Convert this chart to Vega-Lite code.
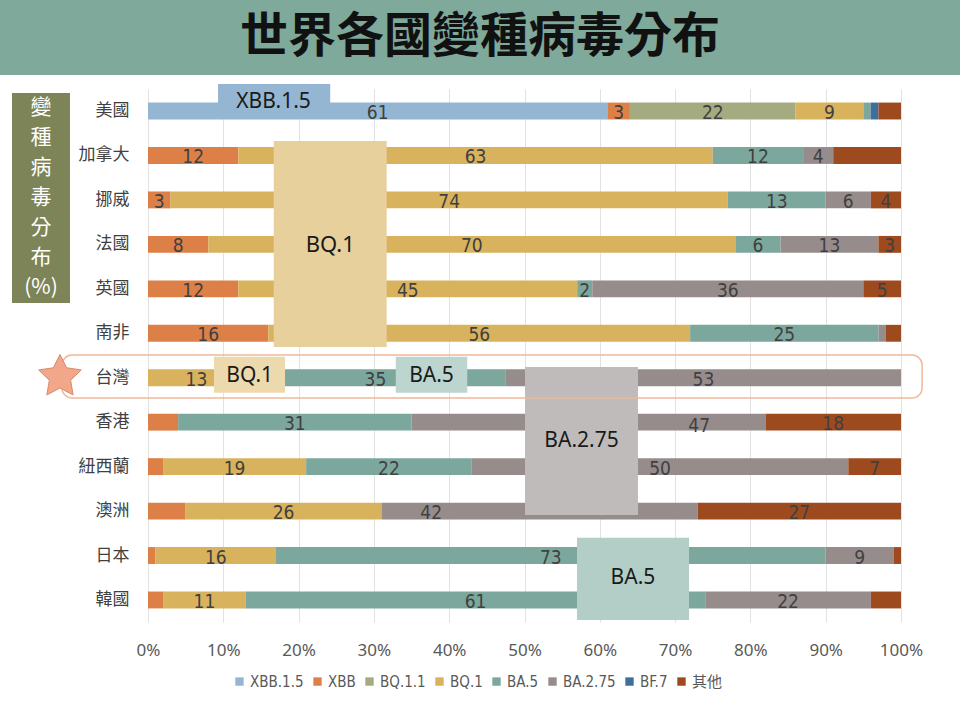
{
  "$schema": "https://vega.github.io/schema/vega-lite/v6.json",
  "width": 753,
  "height": 533.4,
  "autosize": "none",
  "padding": {"left": 148, "top": 88.8, "right": 59, "bottom": 96.8},
  "background": "white",
  "config": {"view": {"stroke": null}},
  "datasets": {
    "shares": [
      {"country": "美國", "variant": "XBB.1.5", "k": 1, "value": 61, "label": "61"},
      {"country": "美國", "variant": "XBB", "k": 2, "value": 3, "label": "3"},
      {"country": "美國", "variant": "BQ.1.1", "k": 3, "value": 22, "label": "22"},
      {"country": "美國", "variant": "BQ.1", "k": 4, "value": 9, "label": "9"},
      {"country": "美國", "variant": "BA.5", "k": 5, "value": 1, "label": ""},
      {"country": "美國", "variant": "BF.7", "k": 7, "value": 1, "label": ""},
      {"country": "美國", "variant": "其他", "k": 8, "value": 3, "label": ""},
      {"country": "加拿大", "variant": "XBB", "k": 2, "value": 12, "label": "12"},
      {"country": "加拿大", "variant": "BQ.1", "k": 4, "value": 63, "label": "63"},
      {"country": "加拿大", "variant": "BA.5", "k": 5, "value": 12, "label": "12"},
      {"country": "加拿大", "variant": "BA.2.75", "k": 6, "value": 4, "label": "4"},
      {"country": "加拿大", "variant": "其他", "k": 8, "value": 9, "label": ""},
      {"country": "挪威", "variant": "XBB", "k": 2, "value": 3, "label": "3"},
      {"country": "挪威", "variant": "BQ.1", "k": 4, "value": 74, "label": "74"},
      {"country": "挪威", "variant": "BA.5", "k": 5, "value": 13, "label": "13"},
      {"country": "挪威", "variant": "BA.2.75", "k": 6, "value": 6, "label": "6"},
      {"country": "挪威", "variant": "其他", "k": 8, "value": 4, "label": "4"},
      {"country": "法國", "variant": "XBB", "k": 2, "value": 8, "label": "8"},
      {"country": "法國", "variant": "BQ.1", "k": 4, "value": 70, "label": "70"},
      {"country": "法國", "variant": "BA.5", "k": 5, "value": 6, "label": "6"},
      {"country": "法國", "variant": "BA.2.75", "k": 6, "value": 13, "label": "13"},
      {"country": "法國", "variant": "其他", "k": 8, "value": 3, "label": "3"},
      {"country": "英國", "variant": "XBB", "k": 2, "value": 12, "label": "12"},
      {"country": "英國", "variant": "BQ.1", "k": 4, "value": 45, "label": "45"},
      {"country": "英國", "variant": "BA.5", "k": 5, "value": 2, "label": "2"},
      {"country": "英國", "variant": "BA.2.75", "k": 6, "value": 36, "label": "36"},
      {"country": "英國", "variant": "其他", "k": 8, "value": 5, "label": "5"},
      {"country": "南非", "variant": "XBB", "k": 2, "value": 16, "label": "16"},
      {"country": "南非", "variant": "BQ.1", "k": 4, "value": 56, "label": "56"},
      {"country": "南非", "variant": "BA.5", "k": 5, "value": 25, "label": "25"},
      {"country": "南非", "variant": "BA.2.75", "k": 6, "value": 1, "label": ""},
      {"country": "南非", "variant": "其他", "k": 8, "value": 2, "label": ""},
      {"country": "台灣", "variant": "BQ.1", "k": 4, "value": 13, "label": "13"},
      {"country": "台灣", "variant": "BA.5", "k": 5, "value": 35, "label": "35"},
      {"country": "台灣", "variant": "BA.2.75", "k": 6, "value": 53, "label": "53"},
      {"country": "香港", "variant": "XBB", "k": 2, "value": 4, "label": ""},
      {"country": "香港", "variant": "BA.5", "k": 5, "value": 31, "label": "31"},
      {"country": "香港", "variant": "BA.2.75", "k": 6, "value": 47, "label": ""},
      {"country": "香港", "variant": "其他", "k": 8, "value": 18, "label": "18"},
      {"country": "紐西蘭", "variant": "XBB", "k": 2, "value": 2, "label": ""},
      {"country": "紐西蘭", "variant": "BQ.1", "k": 4, "value": 19, "label": "19"},
      {"country": "紐西蘭", "variant": "BA.5", "k": 5, "value": 22, "label": "22"},
      {"country": "紐西蘭", "variant": "BA.2.75", "k": 6, "value": 50, "label": "50"},
      {"country": "紐西蘭", "variant": "其他", "k": 8, "value": 7, "label": "7"},
      {"country": "澳洲", "variant": "XBB", "k": 2, "value": 5, "label": ""},
      {"country": "澳洲", "variant": "BQ.1", "k": 4, "value": 26, "label": "26"},
      {"country": "澳洲", "variant": "BA.2.75", "k": 6, "value": 42, "label": ""},
      {"country": "澳洲", "variant": "其他", "k": 8, "value": 27, "label": "27"},
      {"country": "日本", "variant": "XBB", "k": 2, "value": 1, "label": ""},
      {"country": "日本", "variant": "BQ.1", "k": 4, "value": 16, "label": "16"},
      {"country": "日本", "variant": "BA.5", "k": 5, "value": 73, "label": "73"},
      {"country": "日本", "variant": "BA.2.75", "k": 6, "value": 9, "label": "9"},
      {"country": "日本", "variant": "其他", "k": 8, "value": 1, "label": ""},
      {"country": "韓國", "variant": "XBB", "k": 2, "value": 2, "label": ""},
      {"country": "韓國", "variant": "BQ.1", "k": 4, "value": 11, "label": "11"},
      {"country": "韓國", "variant": "BA.5", "k": 5, "value": 61, "label": "61"},
      {"country": "韓國", "variant": "BA.2.75", "k": 6, "value": 22, "label": "22"},
      {"country": "韓國", "variant": "其他", "k": 8, "value": 4, "label": ""}
    ]
  },
  "layer": [
    {
      "data": {"name": "shares"},
      "layer": [
        {
          "mark": {"type": "bar"},
          "encoding": {
            "y": {
              "field": "country", "type": "nominal",
              "sort": ["美國", "加拿大", "挪威", "法國", "英國", "南非", "台灣", "香港", "紐西蘭", "澳洲", "日本", "韓國"],
              "scale": {"paddingInner": 0.62, "paddingOuter": 0.31},
              "axis": {"title": null, "domain": false, "ticks": false, "labelFontSize": 17, "labelColor": "#404040", "labelFont": "Noto Sans CJK TC", "labelPadding": 19}
            },
            "x": {
              "field": "value", "type": "quantitative", "stack": "normalize",
              "scale": {"domain": [0, 1], "nice": false, "zero": false},
              "axis": {
                "title": null, "format": ".0%", "values": [0, 0.1, 0.2, 0.3, 0.4, 0.5, 0.6, 0.7, 0.8, 0.9, 1],
                "grid": true, "gridColor": "#e2e2e2", "domain": false, "ticks": false, "labelFlush": false,
                "labelFontSize": 17, "labelColor": "#595959", "labelFont": "Noto Sans", "labelPadding": 20
              }
            },
            "color": {
              "field": "variant", "type": "nominal",
              "scale": {
                "domain": ["XBB.1.5", "XBB", "BQ.1.1", "BQ.1", "BA.5", "BA.2.75", "BF.7", "其他"],
                "range": ["#94b6d2", "#dd8047", "#a5ab81", "#d8b25c", "#7ba79d", "#968c8c", "#3d6f9e", "#9e4a1f"]
              },
              "legend": {
                "title": null, "orient": "none", "legendX": 84, "legendY": 585, "direction": "horizontal", "symbolType": "square", "symbolSize": 70,
                "symbolStrokeWidth": 0, "labelFontSize": 15, "labelFont": "Liberation Sans Narrow, DejaVu Sans Condensed, Noto Sans CJK TC",
                "labelColor": "#595959", "columnPadding": 6, "labelOffset": 3
              }
            },
            "order": {"field": "k", "type": "quantitative"}
          }
        },
        {
          "transform": [
            {"stack": "value", "groupby": ["country"], "sort": [{"field": "k", "order": "ascending"}], "offset": "normalize", "as": ["s0", "s1"]},
            {"fold": ["s0", "s1"], "as": ["edge", "pos"]}
          ],
          "mark": {"type": "text", "font": "Liberation Sans Narrow, DejaVu Sans Condensed, sans-serif", "fontSize": 19, "color": "#404040", "baseline": "middle", "dy": 2},
          "encoding": {
            "y": {"field": "country", "type": "nominal", "sort": ["美國", "加拿大", "挪威", "法國", "英國", "南非", "台灣", "香港", "紐西蘭", "澳洲", "日本", "韓國"]},
            "x": {"aggregate": "mean", "field": "pos", "type": "quantitative", "stack": null, "title": null, "scale": {"domain": [0, 1], "nice": false, "zero": false}},
            "detail": {"field": "variant", "type": "nominal"},
            "text": {"field": "label", "type": "nominal"}
          }
        },
        {
          "data": {"values": [{"a": 1}]},
          "mark": {"type": "text", "text": "47", "font": "Liberation Sans Narrow, DejaVu Sans Condensed, sans-serif", "fontSize": 19, "color": "#404040", "baseline": "middle", "dy": 4},
          "encoding": {
            "x": {"datum": 0.732, "type": "quantitative", "title": null, "scale": {"domain": [0, 1], "nice": false, "zero": false}},
            "y": {"datum": "香港", "type": "nominal"}
          }
        },
        {
          "data": {"values": [{"a": 1}]},
          "mark": {"type": "text", "text": "42", "font": "Liberation Sans Narrow, DejaVu Sans Condensed, sans-serif", "fontSize": 19, "color": "#404040", "baseline": "middle", "dy": 2},
          "encoding": {
            "x": {"datum": 0.376, "type": "quantitative", "title": null, "scale": {"domain": [0, 1], "nice": false, "zero": false}},
            "y": {"datum": "澳洲", "type": "nominal"}
          }
        }
      ]
    },
    {
      "data": {"values": [{"a": 1}]},
      "layer": [
        {
          "mark": {"type": "rect", "fill": "#7fa99b"},
          "encoding": {
            "x": {"datum": -0.1966, "type": "quantitative", "title": null, "scale": {"domain": [0, 1], "nice": false, "zero": false}},
            "x2": {"datum": 1.079},
            "y": {"datum": -2.0, "type": "quantitative", "scale": {"domain": [12, 0], "nice": false, "zero": false}, "axis": null},
            "y2": {"datum": -0.31}
          }
        },
        {
          "mark": {"type": "text", "text": "世界各國變種病毒分布", "font": "Noto Sans CJK TC", "fontSize": 48, "fontWeight": "bold", "color": "#111111", "baseline": "middle", "align": "center"},
          "encoding": {
            "x": {"datum": 0.4409, "type": "quantitative", "title": null, "scale": {"domain": [0, 1], "nice": false, "zero": false}},
            "y": {"datum": -1.15, "type": "quantitative", "scale": {"domain": [12, 0], "nice": false, "zero": false}, "axis": null}
          }
        },
        {
          "mark": {"type": "rect", "fill": "#7d8458"},
          "encoding": {
            "x": {"datum": -0.1806, "type": "quantitative", "title": null, "scale": {"domain": [0, 1], "nice": false, "zero": false}},
            "x2": {"datum": -0.1036},
            "y": {"datum": 0.094, "type": "quantitative", "scale": {"domain": [12, 0], "nice": false, "zero": false}, "axis": null},
            "y2": {"datum": 4.82}
          }
        },
        {
          "mark": {"type": "text", "text": ["變", "種", "病", "毒", "分", "布", "(%)"], "lineHeight": 30, "font": "Noto Sans CJK TC", "fontSize": 21, "color": "#ffffff", "baseline": "middle", "align": "center"},
          "encoding": {
            "x": {"datum": -0.1421, "type": "quantitative", "title": null, "scale": {"domain": [0, 1], "nice": false, "zero": false}},
            "y": {"datum": 0.43, "type": "quantitative", "scale": {"domain": [12, 0], "nice": false, "zero": false}, "axis": null}
          }
        },
        {
          "mark": {"type": "rect", "fill": "#94b6d2"},
          "encoding": {
            "x": {"datum": 0.093, "type": "quantitative", "title": null, "scale": {"domain": [0, 1], "nice": false, "zero": false}},
            "x2": {"datum": 0.242},
            "y": {"datum": -0.11, "type": "quantitative", "scale": {"domain": [12, 0], "nice": false, "zero": false}, "axis": null},
            "y2": {"datum": 0.48}
          }
        },
        {
          "mark": {"type": "text", "text": "XBB.1.5", "font": "Noto Sans", "fontSize": 21, "color": "#1a1a1a", "baseline": "middle", "align": "center"},
          "encoding": {
            "x": {"datum": 0.1667, "type": "quantitative", "title": null, "scale": {"domain": [0, 1], "nice": false, "zero": false}},
            "y": {"datum": 0.3, "type": "quantitative", "scale": {"domain": [12, 0], "nice": false, "zero": false}, "axis": null}
          }
        },
        {
          "mark": {"type": "rect", "fill": "#e8d09c"},
          "encoding": {
            "x": {"datum": 0.167, "type": "quantitative", "title": null, "scale": {"domain": [0, 1], "nice": false, "zero": false}},
            "x2": {"datum": 0.317},
            "y": {"datum": 1.174, "type": "quantitative", "scale": {"domain": [12, 0], "nice": false, "zero": false}, "axis": null},
            "y2": {"datum": 5.81}
          }
        },
        {
          "mark": {"type": "text", "text": "BQ.1", "font": "Noto Sans", "fontSize": 22, "color": "#1a1a1a", "baseline": "middle", "align": "center"},
          "encoding": {
            "x": {"datum": 0.242, "type": "quantitative", "title": null, "scale": {"domain": [0, 1], "nice": false, "zero": false}},
            "y": {"datum": 3.51, "type": "quantitative", "scale": {"domain": [12, 0], "nice": false, "zero": false}, "axis": null}
          }
        },
        {
          "mark": {"type": "rect", "fill": "#ecd9ad"},
          "encoding": {
            "x": {"datum": 0.0876, "type": "quantitative", "title": null, "scale": {"domain": [0, 1], "nice": false, "zero": false}},
            "x2": {"datum": 0.182},
            "y": {"datum": 6.03, "type": "quantitative", "scale": {"domain": [12, 0], "nice": false, "zero": false}, "axis": null},
            "y2": {"datum": 6.84}
          }
        },
        {
          "mark": {"type": "text", "text": "BQ.1", "font": "Noto Sans", "fontSize": 21, "color": "#1a1a1a", "baseline": "middle", "align": "center"},
          "encoding": {
            "x": {"datum": 0.135, "type": "quantitative", "title": null, "scale": {"domain": [0, 1], "nice": false, "zero": false}},
            "y": {"datum": 6.45, "type": "quantitative", "scale": {"domain": [12, 0], "nice": false, "zero": false}, "axis": null}
          }
        },
        {
          "mark": {"type": "rect", "fill": "#bcd5cf"},
          "encoding": {
            "x": {"datum": 0.329, "type": "quantitative", "title": null, "scale": {"domain": [0, 1], "nice": false, "zero": false}},
            "x2": {"datum": 0.424},
            "y": {"datum": 6.03, "type": "quantitative", "scale": {"domain": [12, 0], "nice": false, "zero": false}, "axis": null},
            "y2": {"datum": 6.84}
          }
        },
        {
          "mark": {"type": "text", "text": "BA.5", "font": "Noto Sans", "fontSize": 21, "color": "#1a1a1a", "baseline": "middle", "align": "center"},
          "encoding": {
            "x": {"datum": 0.3765, "type": "quantitative", "title": null, "scale": {"domain": [0, 1], "nice": false, "zero": false}},
            "y": {"datum": 6.45, "type": "quantitative", "scale": {"domain": [12, 0], "nice": false, "zero": false}, "axis": null}
          }
        },
        {
          "mark": {"type": "rect", "fill": "#c0bbbb"},
          "encoding": {
            "x": {"datum": 0.5007, "type": "quantitative", "title": null, "scale": {"domain": [0, 1], "nice": false, "zero": false}},
            "x2": {"datum": 0.6507},
            "y": {"datum": 6.26, "type": "quantitative", "scale": {"domain": [12, 0], "nice": false, "zero": false}, "axis": null},
            "y2": {"datum": 9.59}
          }
        },
        {
          "mark": {"type": "text", "text": "BA.2.75", "font": "Noto Sans", "fontSize": 21, "color": "#1a1a1a", "baseline": "middle", "align": "center"},
          "encoding": {
            "x": {"datum": 0.5757, "type": "quantitative", "title": null, "scale": {"domain": [0, 1], "nice": false, "zero": false}},
            "y": {"datum": 7.92, "type": "quantitative", "scale": {"domain": [12, 0], "nice": false, "zero": false}, "axis": null}
          }
        },
        {
          "mark": {"type": "rect", "fill": "#b3cec7"},
          "encoding": {
            "x": {"datum": 0.5697, "type": "quantitative", "title": null, "scale": {"domain": [0, 1], "nice": false, "zero": false}},
            "x2": {"datum": 0.7185},
            "y": {"datum": 10.1, "type": "quantitative", "scale": {"domain": [12, 0], "nice": false, "zero": false}, "axis": null},
            "y2": {"datum": 11.95}
          }
        },
        {
          "mark": {"type": "text", "text": "BA.5", "font": "Noto Sans", "fontSize": 21, "color": "#1a1a1a", "baseline": "middle", "align": "center"},
          "encoding": {
            "x": {"datum": 0.644, "type": "quantitative", "title": null, "scale": {"domain": [0, 1], "nice": false, "zero": false}},
            "y": {"datum": 11.0, "type": "quantitative", "scale": {"domain": [12, 0], "nice": false, "zero": false}, "axis": null}
          }
        },
        {
          "mark": {"type": "rect", "fill": "transparent", "stroke": "#f0b898", "strokeWidth": 1.5, "cornerRadius": 10},
          "encoding": {
            "x": {"datum": -0.1142, "type": "quantitative", "title": null, "scale": {"domain": [0, 1], "nice": false, "zero": false}},
            "x2": {"datum": 1.028},
            "y": {"datum": 5.99, "type": "quantitative", "scale": {"domain": [12, 0], "nice": false, "zero": false}, "axis": null},
            "y2": {"datum": 6.956}
          }
        },
        {
          "mark": {"type": "point", "shape": "M0,-1L0.294,-0.405L0.951,-0.309L0.476,0.155L0.588,0.809L0,0.5L-0.588,0.809L-0.476,0.155L-0.951,-0.309L-0.294,-0.405Z", "filled": true, "size": 2000, "fill": "#f2a68a", "stroke": "#d98a6a", "strokeWidth": 1, "opacity": 1},
          "encoding": {
            "x": {"datum": -0.1169, "type": "quantitative", "title": null, "scale": {"domain": [0, 1], "nice": false, "zero": false}},
            "y": {"datum": 6.48, "type": "quantitative", "scale": {"domain": [12, 0], "nice": false, "zero": false}, "axis": null}
          }
        }
      ]
    }
  ],
  "resolve": {"scale": {"y": "independent"}}
}
